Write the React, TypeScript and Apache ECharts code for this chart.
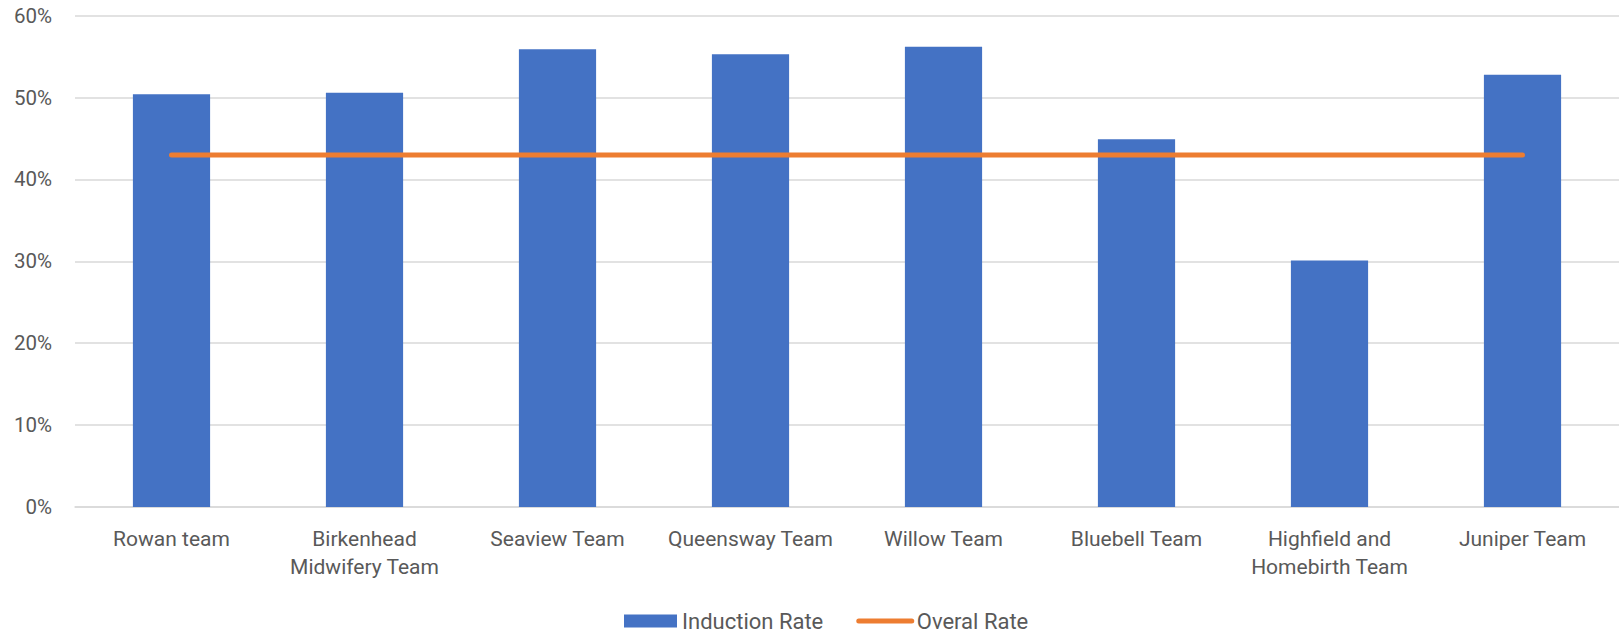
import React, { useEffect, useRef } from "react";
import * as echarts from "echarts";

const categories = [
  "Rowan team",
  "Birkenhead\nMidwifery Team",
  "Seaview Team",
  "Queensway Team",
  "Willow Team",
  "Bluebell Team",
  "Highfield and\nHomebirth Team",
  "Juniper Team",
];
const inductionRate = [0.504, 0.506, 0.559, 0.553, 0.562, 0.449, 0.301, 0.528];
const overallRate = [0.43, 0.43, 0.43, 0.43, 0.43, 0.43, 0.43, 0.43];

const FONT = "Roboto, 'Noto Sans', sans-serif";
const TEXT = "#595959";

export default function App() {
  const ref = useRef<HTMLDivElement>(null);
  useEffect(() => {
    if (!ref.current) return;
    const chart = echarts.init(ref.current, undefined, { renderer: "svg" });
    chart.setOption({
      animation: false,
      backgroundColor: "#ffffff",
      textStyle: { fontFamily: FONT },
      grid: { left: 75, right: 0, top: 15.7, bottom: 125, containLabel: false },
      legend: {
        left: 624,
        top: 610,
        padding: 0,
        itemGap: 33,
        itemWidth: 53,
        itemHeight: 13,
        textStyle: { color: TEXT, fontSize: 22, fontFamily: FONT },
        data: [
          { name: "Induction Rate", icon: "rect" },
          {
            name: "Overal Rate",
            itemStyle: { opacity: 0 },
            lineStyle: { width: 5, cap: "round", color: "#ED7D31" },
          },
        ],
      },
      xAxis: {
        type: "category",
        data: categories,
        axisLine: { show: true, lineStyle: { color: "#d9d9d9", width: 1.5 } },
        axisTick: { show: false },
        axisLabel: {
          interval: 0,
          color: TEXT,
          fontSize: 21,
          lineHeight: 28,
          margin: 18,
          fontFamily: FONT,
        },
      },
      yAxis: {
        type: "value",
        min: 0,
        max: 0.6,
        interval: 0.1,
        axisLine: { show: false },
        axisTick: { show: false },
        splitLine: { lineStyle: { color: "#d9d9d9", width: 1.5 } },
        axisLabel: {
          color: TEXT,
          fontSize: 20.5,
          margin: 23,
          fontFamily: FONT,
          formatter: (v: number) => Math.round(v * 100) + "%",
        },
      },
      series: [
        {
          name: "Induction Rate",
          type: "bar",
          data: inductionRate,
          barWidth: "40%",
          itemStyle: { color: "#4472C4" },
        },
        {
          name: "Overal Rate",
          type: "line",
          data: overallRate,
          symbol: "none",
          showSymbol: false,
          itemStyle: { color: "#ED7D31" },
          lineStyle: { color: "#ED7D31", width: 5, cap: "round" },
        },
      ],
    });
    return () => chart.dispose();
  }, []);
  return (
    <div
      ref={ref}
      style={{ position: "fixed", left: 0, top: 0, width: 1619, height: 632 }}
    />
  );
}
